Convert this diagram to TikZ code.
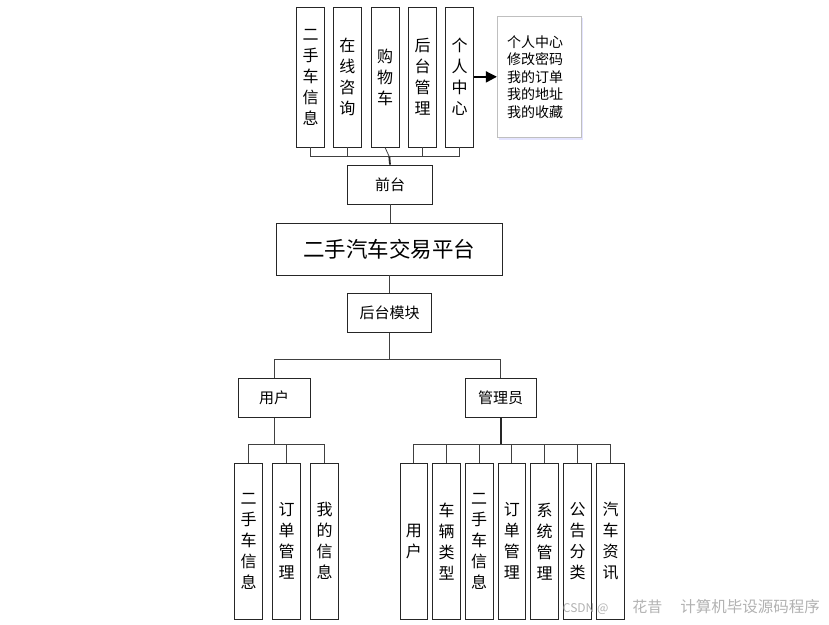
\documentclass[tikz,border=0pt]{standalone}
\usepackage{fontspec}
\setmainfont{Noto Sans CJK SC}
\usetikzlibrary{arrows.meta, shadows}

\tikzset{
	box/.style={draw=black!85, line width=0.8pt, inner sep=0pt, align=center},
	vbox/.style={box, minimum width=28pt, font=\fontsize{16}{21}\selectfont},
	hbox/.style={box, minimum height=39pt, font=\fontsize{15}{18}\selectfont},
	link/.style={draw=black!75, line width=0.8pt},
	boldlink/.style={draw=black!85, line width=1.8pt}
}

\begin{document}
\begin{tikzpicture}[x=1pt, y=-1pt]
	\useasboundingbox (0,0) rectangle (829,624);
	
	% front end modules
	\node[vbox, minimum height=140pt] (t1) at (310.7,77) {二\\手\\车\\信\\息};
	\node[vbox, minimum height=140pt] (t2) at (347.3,77) {在\\线\\咨\\询};
	\node[vbox, minimum height=140pt] (t3) at (385,77) {购\\物\\车};
	\node[vbox, minimum height=140pt] (t4) at (422.5,77) {后\\台\\管\\理};
	\node[vbox, minimum height=140pt] (t5) at (459.7,77) {个\\人\\中\\心};
	
	\node[draw=black!25, fill=white, line width=0.6pt, text width=64pt, inner xsep=10pt,
		minimum height=121.7pt, align=left, font=\fontsize{14}{17.5}\selectfont,
		drop shadow={shadow xshift=2pt, shadow yshift=-2pt, fill=blue!30!white, opacity=0.35}]
		(center) at (539.2,76.8) {个人中心\\修改密码\\我的订单\\我的地址\\我的收藏};
	\draw[line width=1.8pt, -{Triangle[length=11pt, width=11pt]}] (t5.east) -- (center.west);
	
	\coordinate (topbus) at (389.3,156.7);
	\draw[link] (t1.south) -- (t1.south |- topbus) -- (t5.south |- topbus) -- (t5.south);
	\draw[link] (t2.south) -- (t2.south |- topbus);
	\draw[link] (t4.south) -- (t4.south |- topbus);
	\draw[link] (t3.south) -- (topbus);
	
	\node[hbox, minimum width=84.6pt] (front) at (390,184.5) {前台};
	\draw[boldlink] (topbus) -- (front.north);
	
	% platform
	\node[box, minimum width=226.7pt, minimum height=51.7pt, font=\fontsize{21.5}{24}\selectfont]
		(platform) at (389.4,249.2) {二手汽车交易平台};
	\draw[link] (front.south) -- (platform.north -| front.south);
	
	% back end
	\node[hbox, minimum width=84.4pt] (back) at (389.5,313) {后台模块};
	\draw[link] (platform.south -| back.north) -- (back.north);
	
	\node[hbox, minimum width=71.7pt] (user) at (274.2,398) {用户};
	\node[hbox, minimum width=70.7pt] (admin) at (500.7,398) {管理员};
	\coordinate (backbus) at (389.5,359.3);
	\draw[link] (back.south) -- (backbus);
	\draw[link] (user.north) -- (user.north |- backbus) -- (admin.north |- backbus) -- (admin.north);
	
	% user modules
	\node[vbox, minimum height=156pt] (u1) at (248.7,541.3) {二\\手\\车\\信\\息};
	\node[vbox, minimum height=156pt] (u2) at (286.5,541.3) {订\\单\\管\\理};
	\node[vbox, minimum height=156pt] (u3) at (324.5,541.3) {我\\的\\信\\息};
	\coordinate (userbus) at (274.2,444);
	\draw[link, line width=1.2pt] (user.south) -- (userbus);
	\draw[link] (u1.north) -- (u1.north |- userbus) -- (u3.north |- userbus) -- (u3.north);
	\draw[link] (u2.north) -- (u2.north |- userbus);
	
	% admin modules
	\node[vbox, minimum width=27.7pt, minimum height=156pt] (a1) at (413.8,541.3) {用\\户};
	\node[vbox, minimum width=27.7pt, minimum height=156pt] (a2) at (446.5,541.3) {车\\辆\\类\\型};
	\node[vbox, minimum width=27.7pt, minimum height=156pt] (a3) at (479.2,541.3) {二\\手\\车\\信\\息};
	\node[vbox, minimum width=27.7pt, minimum height=156pt] (a4) at (511.8,541.3) {订\\单\\管\\理};
	\node[vbox, minimum width=27.7pt, minimum height=156pt] (a5) at (544.5,541.3) {系\\统\\管\\理};
	\node[vbox, minimum width=27.7pt, minimum height=156pt] (a6) at (577.7,541.3) {公\\告\\分\\类};
	\node[vbox, minimum width=27.7pt, minimum height=156pt] (a7) at (610.5,541.3) {汽\\车\\资\\讯};
	\coordinate (adminbus) at (500.7,444);
	\draw[boldlink] (admin.south) -- (adminbus);
	\draw[link] (a1.north) -- (a1.north |- adminbus) -- (a7.north |- adminbus) -- (a7.north);
	\foreach \n in {a2,a3,a4,a5,a6}
		\draw[link] (\n.north) -- (\n.north |- adminbus);
	
	\node[anchor=west, inner sep=0pt, text=black!30] (mark) at (562.7,607)
		{\fontsize{12}{14}\selectfont CSDN @\hspace{24pt}\fontsize{15}{17}\selectfont 花昔\hspace{18pt}\fontsize{15.5}{17}\selectfont 计算机毕设源码程序};
\end{tikzpicture}
\end{document}
